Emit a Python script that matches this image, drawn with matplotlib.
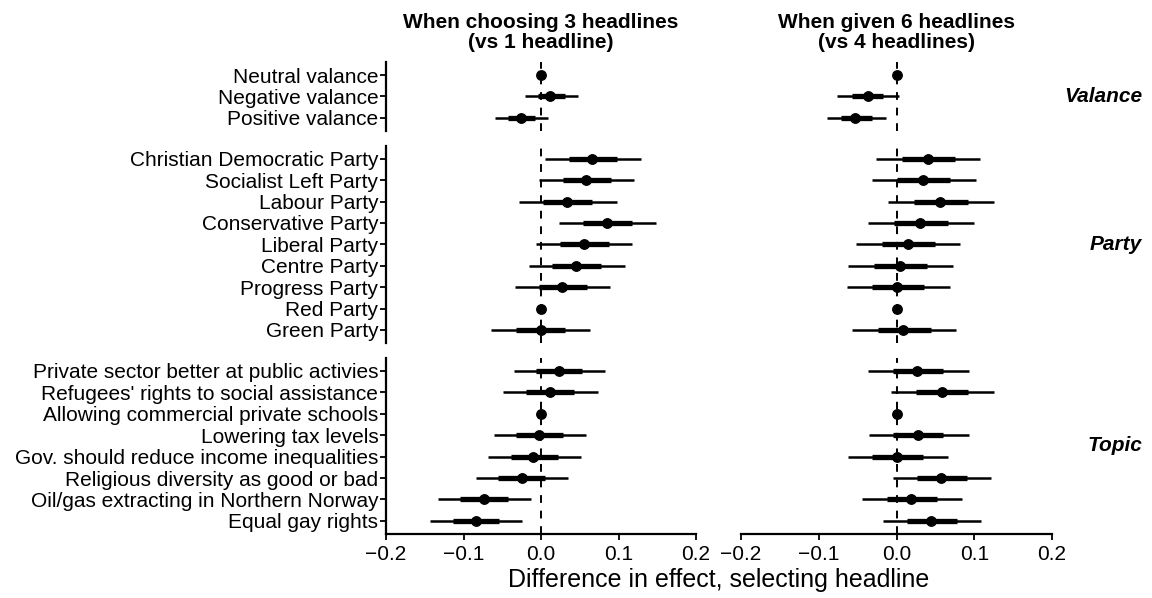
import numpy as np
import matplotlib
matplotlib.use("Agg")
import matplotlib.pyplot as plt

plt.rcParams['font.family'] = ['Liberation Sans', 'DejaVu Sans']

# --- data -------------------------------------------------------------
groups = ['Valance', 'Party', 'Topic']

labels = {
    'Valance': ['Neutral valance', 'Negative valance', 'Positive valance'],
    'Party': ['Christian Democratic Party', 'Socialist Left Party', 'Labour Party',
              'Conservative Party', 'Liberal Party', 'Centre Party',
              'Progress Party', 'Red Party', 'Green Party'],
    'Topic': ['Private sector better at public activies',
              "Refugees' rights to social assistance",
              'Allowing commercial private schools', 'Lowering tax levels',
              'Gov. should reduce income inequalities',
              'Religious diversity as good or bad',
              'Oil/gas extracting in Northern Norway', 'Equal gay rights'],
}

nan = np.nan

# panel 1: when choosing 3 headlines (vs 1 headline)
est1 = {
    'Valance': [0.0, 0.012, -0.026],
    'Party': [0.066, 0.058, 0.034, 0.085, 0.055, 0.045, 0.027, 0.0, 0.0],
    'Topic': [0.023, 0.011, 0.0, -0.002, -0.010, -0.025, -0.074, -0.084],
}
inner_lo1 = {
    'Valance': [nan, -0.004, -0.043],
    'Party': [0.036, 0.028, 0.002, 0.054, 0.024, 0.014, -0.003, nan, -0.032],
    'Topic': [-0.006, -0.019, nan, -0.032, -0.039, -0.055, -0.104, -0.114],
}
inner_hi1 = {
    'Valance': [nan, 0.031, -0.008],
    'Party': [0.098, 0.090, 0.066, 0.118, 0.088, 0.077, 0.059, nan, 0.031],
    'Topic': [0.053, 0.043, nan, 0.028, 0.022, 0.005, -0.043, -0.054],
}
outer_lo1 = {
    'Valance': [nan, -0.021, -0.060],
    'Party': [0.005, -0.002, -0.029, 0.023, -0.007, -0.016, -0.034, nan, -0.064],
    'Topic': [-0.035, -0.049, nan, -0.061, -0.069, -0.084, -0.133, -0.143],
}
outer_hi1 = {
    'Valance': [nan, 0.048, 0.009],
    'Party': [0.129, 0.120, 0.098, 0.149, 0.118, 0.108, 0.089, nan, 0.063],
    'Topic': [0.083, 0.073, nan, 0.058, 0.051, 0.035, -0.013, -0.025],
}

# panel 2: when given 6 headlines (vs 4 headlines)
est2 = {
    'Valance': [0.0, -0.037, -0.053],
    'Party': [0.040, 0.034, 0.056, 0.030, 0.015, 0.004, 0.001, 0.0, 0.009],
    'Topic': [0.027, 0.058, 0.0, 0.028, 0.001, 0.057, 0.019, 0.045],
}
inner_lo2 = {
    'Valance': [nan, -0.057, -0.072],
    'Party': [0.007, 0.001, 0.023, -0.003, -0.019, -0.029, -0.032, nan, -0.024],
    'Topic': [-0.005, 0.025, nan, -0.004, -0.031, 0.027, -0.012, 0.014],
}
inner_hi2 = {
    'Valance': [nan, -0.017, -0.032],
    'Party': [0.075, 0.069, 0.092, 0.066, 0.049, 0.039, 0.035, nan, 0.044],
    'Topic': [0.060, 0.092, nan, 0.060, 0.034, 0.091, 0.052, 0.078],
}
outer_lo2 = {
    'Valance': [nan, -0.076, -0.090],
    'Party': [-0.027, -0.032, -0.011, -0.037, -0.052, -0.063, -0.064, nan, -0.057],
    'Topic': [-0.037, -0.007, nan, -0.036, -0.063, -0.005, -0.044, -0.017],
}
outer_hi2 = {
    'Valance': [nan, 0.003, -0.013],
    'Party': [0.108, 0.102, 0.126, 0.100, 0.082, 0.073, 0.069, nan, 0.077],
    'Topic': [0.093, 0.126, nan, 0.093, 0.066, 0.122, 0.084, 0.109],
}

col_titles = ['When choosing 3 headlines\n(vs 1 headline)',
              'When given 6 headlines\n(vs 4 headlines)']
xticks = [-0.2, -0.1, 0.0, 0.1, 0.2]
xticklabels = ['\u22120.2', '\u22120.1', '0.0', '0.1', '0.2']
xlabel = 'Difference in effect, selecting headline'

panels = [
    (est1, inner_lo1, inner_hi1, outer_lo1, outer_hi1),
    (est2, inner_lo2, inner_hi2, outer_lo2, outer_hi2),
]

# --- layout (pixel boxes -> figure fractions) -------------------------
W, H = 1152, 598
fig = plt.figure(figsize=(W / 100, H / 100), dpi=100)

col_x = [(386, 696), (741, 1052)]
row_y = {'Valance': (62.2, 130.5), 'Party': (145.9, 342.8), 'Topic': (357.9, 533.8)}
fs = 15

for ci, (est, ilo, ihi, olo, ohi) in enumerate(panels):
    x0, x1 = col_x[ci]
    for g in groups:
        y0, y1 = row_y[g]
        ax = fig.add_axes([x0 / W, 1 - y1 / H, (x1 - x0) / W, (y1 - y0) / H])
        n = len(labels[g])
        ypos = np.arange(n)
        ax.set_xlim(-0.2, 0.2)
        ax.set_ylim(n - 1 + 0.6, -0.6)
        ax.axvline(0, color='black', lw=1.4, ls=(0, (4, 4)), zorder=1)
        for i in range(n):
            if not np.isnan(olo[g][i]):
                ax.hlines(ypos[i], olo[g][i], ohi[g][i], color='black', lw=1.8, zorder=2)
                ax.hlines(ypos[i], ilo[g][i], ihi[g][i], color='black', lw=3.8, zorder=3)
        ax.plot(est[g], ypos, 'o', color='black', ms=6.8, zorder=4)

        for s in ['top', 'right']:
            ax.spines[s].set_visible(False)
        ax.spines['left'].set_visible(ci == 0)
        ax.spines['left'].set_linewidth(1.6)
        ax.spines['bottom'].set_visible(g == 'Topic')
        ax.spines['bottom'].set_linewidth(1.6)

        if ci == 0:
            ax.set_yticks(ypos)
            ax.set_yticklabels(labels[g], fontsize=fs, color='black')
            ax.tick_params(axis='y', length=4, width=1.3, pad=1.5)
        else:
            ax.set_yticks([])
        if g == 'Topic':
            ax.set_xticks(xticks)
            ax.set_xticklabels(xticklabels, fontsize=fs, color='black')
            ax.tick_params(axis='x', length=4.5, width=1.3, pad=3.5)
        else:
            ax.set_xticks([])
        ax.patch.set_visible(False)

    # column title, two lines placed by baseline
    for li, line in enumerate(col_titles[ci].split('\n')):
        fig.text((x0 + x1) / 2 / W, 1 - (27.5 + 20.5 * li) / H, line, ha='center',
                 va='baseline', fontsize=fs, fontweight='bold')

for g in groups:
    y0, y1 = row_y[g]
    fig.text(1142 / W, 1 - (y0 + y1) / 2 / H, g, ha='right', va='center',
             fontsize=fs, fontweight='bold', fontstyle='italic')

fig.text(719 / W, 1 - 580 / H, xlabel, ha='center', va='center', fontsize=18)

fig.savefig('out.png', dpi=100, facecolor='white')
